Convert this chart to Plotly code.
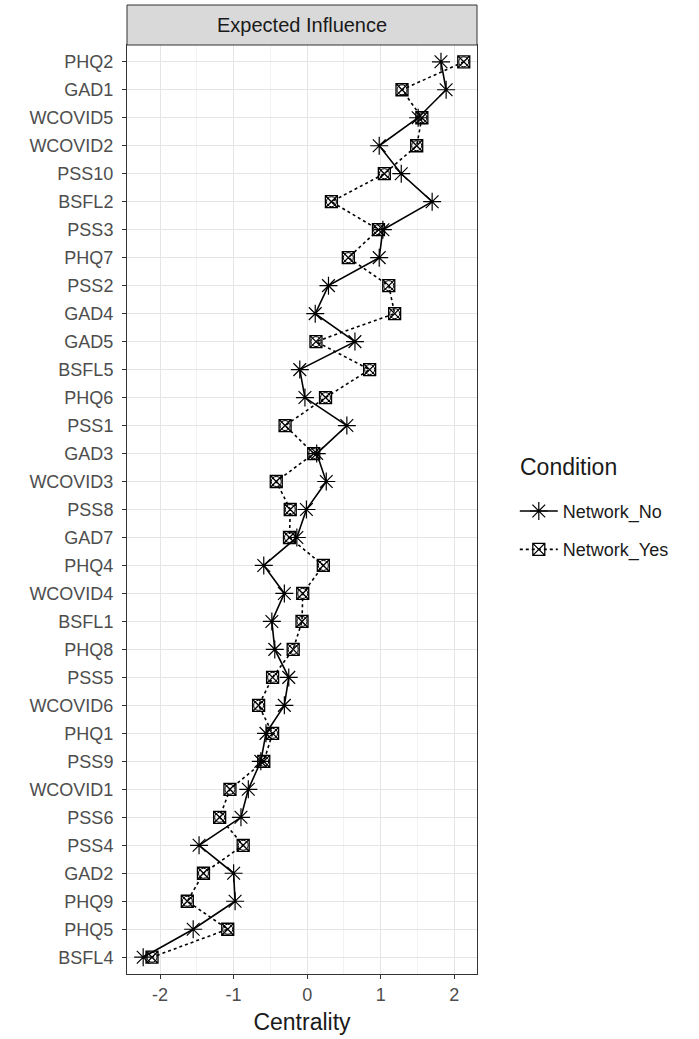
import plotly.graph_objects as go

nodes = ["PHQ2", "GAD1", "WCOVID5", "WCOVID2", "PSS10", "BSFL2", "PSS3", "PHQ7", "PSS2",
         "GAD4", "GAD5", "BSFL5", "PHQ6", "PSS1", "GAD3", "WCOVID3", "PSS8", "GAD7", "PHQ4",
         "WCOVID4", "BSFL1", "PHQ8", "PSS5", "WCOVID6", "PHQ1", "PSS9", "WCOVID1", "PSS6",
         "PSS4", "GAD2", "PHQ9", "PHQ5", "BSFL4"]

network_no = [1.82, 1.89, 1.51, 0.98, 1.28, 1.70, 1.03, 0.98, 0.29,
              0.11, 0.65, -0.10, -0.03, 0.54, 0.13, 0.26, -0.01, -0.14, -0.59,
              -0.31, -0.48, -0.44, -0.25, -0.31, -0.56, -0.63, -0.80, -0.90,
              -1.47, -1.00, -0.98, -1.55, -2.23]

network_yes = [2.13, 1.29, 1.56, 1.49, 1.05, 0.33, 0.97, 0.56, 1.11,
               1.19, 0.12, 0.85, 0.25, -0.30, 0.09, -0.42, -0.23, -0.24, 0.22,
               -0.06, -0.07, -0.19, -0.47, -0.66, -0.47, -0.59, -1.05, -1.19,
               -0.87, -1.41, -1.63, -1.08, -2.11]

x_ticks = [-2, -1, 0, 1, 2]
x_tick_labels = ["-2", "-1", "0", "1", "2"]

FONT = "Liberation Sans, Arial, sans-serif"

fig = go.Figure()

fig.add_trace(go.Scatter(
    x=network_no, y=nodes, mode="lines+markers", name="Network_No",
    legendgroup="no",
    line=dict(color="black", width=1.6),
    marker=dict(symbol="asterisk-open", size=15, color="black", line=dict(width=1.2, color="black")),
))

fig.add_trace(go.Scatter(
    x=network_yes, y=nodes, mode="lines+markers", name="Network_Yes",
    legendgroup="yes",
    line=dict(color="black", width=1.6, dash="dot"),
    marker=dict(symbol="square-x-open", size=12, color="black", line=dict(width=1.3, color="black")),
))
fig.add_trace(go.Scatter(
    x=network_yes, y=nodes, mode="markers", name="Network_Yes",
    legendgroup="yes", showlegend=False, hoverinfo="skip",
    marker=dict(symbol="circle-open", size=10, color="black", line=dict(width=1.0, color="black")),
))

cat_order = list(reversed(nodes))

fig.update_layout(
    width=699, height=1039,
    margin=dict(l=127, r=222, t=45, b=65),
    paper_bgcolor="white", plot_bgcolor="white",
    font=dict(family=FONT, color="#1a1a1a"),
    showlegend=True,
    legend=dict(
        x=1.108, y=0.518, xanchor="left", yanchor="top",
        font=dict(size=18, color="#1a1a1a"),
        tracegroupgap=12,
        traceorder="grouped",
        itemwidth=38,
        bgcolor="rgba(0,0,0,0)",
    ),
    xaxis=dict(
        range=[-2.45, 2.31], tickmode="array", tickvals=x_ticks,
        ticktext=x_tick_labels,
        automargin=False,
        showgrid=True, gridcolor="#e5e5e5", gridwidth=1.2,
        minor=dict(dtick=0.5, tick0=0, showgrid=True, gridcolor="#f2f2f2", gridwidth=0.8),
        zeroline=False,
        ticks="outside", ticklen=4, tickcolor="#333333", tickwidth=1,
        tickfont=dict(size=18, color="#4d4d4d"),
        title=dict(text="Centrality", font=dict(size=23, color="#1a1a1a"), standoff=10),
        showline=True, linecolor="#333333", linewidth=1, mirror=True,
    ),
    yaxis=dict(
        type="category", categoryorder="array", categoryarray=cat_order,
        range=[-0.6, len(nodes) - 0.4],
        automargin=False,
        showgrid=True, gridcolor="#e5e5e5", gridwidth=1.2,
        zeroline=False,
        ticks="outside", ticklen=4, tickcolor="#333333", tickwidth=1,
        ticklabelstandoff=5,
        tickfont=dict(size=18, color="#4d4d4d"),
        showline=True, linecolor="#333333", linewidth=1, mirror=True,
    ),
)

strip_h = 40 / (1039 - 45 - 65)
fig.add_shape(type="rect", xref="paper", yref="paper", x0=0, x1=1, y0=1, y1=1 + strip_h,
              fillcolor="#d9d9d9", line=dict(color="#333333", width=1))
fig.add_annotation(xref="paper", yref="paper", x=0.5, y=1 + strip_h / 2, text="Expected Influence",
                   showarrow=False, font=dict(size=20, color="#1a1a1a"), xanchor="center", yanchor="middle")

# legend title placed as a separate text
fig.add_annotation(xref="paper", yref="paper", x=(518 - 127) / 350, y=1 - (467 - 45) / 929,
                   text="Condition", showarrow=False, xanchor="left", yanchor="middle",
                   font=dict(size=23, color="#1a1a1a"))

fig.write_html("out.html")
